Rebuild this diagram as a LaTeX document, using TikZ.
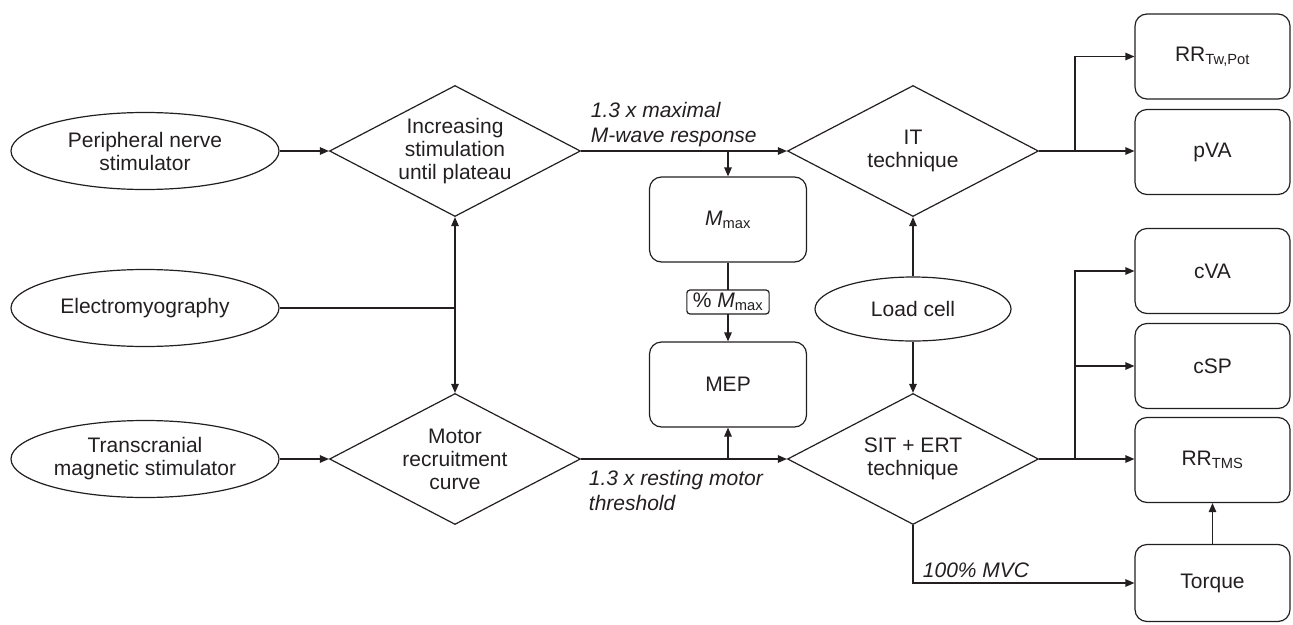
\documentclass[tikz,border=0pt]{standalone}
\usepackage{fontspec}
\setmainfont{Liberation Sans}
\usetikzlibrary{arrows.meta,shapes.geometric}
\definecolor{Ink}{HTML}{231F20}
\newcommand{\Mmax}{\textit{M}\textsubscript{max}}

\begin{document}
\begin{tikzpicture}[x=1pt,y=-1pt,color=Ink,line width=1.2pt,font=\fontsize{21}{23}\selectfont,>={Triangle[length=9pt,width=7.5pt]},
    srcoval/.style={ellipse,draw,align=center,inner sep=0pt,minimum width=268pt,minimum height=77pt},
    decide/.style={diamond,draw,align=center,inner sep=0pt,aspect=1.92,minimum width=251pt,minimum height=131pt},
    outbox/.style={draw,rounded corners=12pt,align=center,minimum width=155pt,minimum height=85pt},
    pcttag/.style={draw,fill=white,rounded corners=3pt,inner xsep=6pt,inner ysep=3pt},
    cue/.style={font=\fontsize{21}{25}\selectfont\itshape,align=left,anchor=west}]
        \useasboundingbox (0,0) rectangle (1293,624);
        \node[srcoval] (pns) at (145,151) {Peripheral nerve\\stimulator};
        \node[srcoval] (emg) at (145,308) {Electromyography};
        \node[srcoval] (tms) at (145,459) {Transcranial\\magnetic stimulator};
        \node[decide] (inc) at (455,151) {Increasing\\stimulation\\until plateau};
        \node[decide] (mrc) at (455,459) {Motor\\recruitment\\curve};
        \node[decide] (it) at (913,151) {IT\\technique};
        \node[decide] (sit) at (913,459) {SIT + ERT\\technique};
        \node[outbox,minimum width=157pt] (mmax) at (728,219.5) {\Mmax};
        \node[outbox,minimum width=157pt] (mep) at (728,384.5) {MEP};
        \node[srcoval,minimum width=196pt,minimum height=64pt] (load) at (913,309) {Load cell};
        \node[outbox] (rrtw) at (1212.5,56.5) {RR\textsubscript{Tw,Pot}};
        \node[outbox] (pva) at (1212.5,152) {pVA};
        \node[outbox] (cva) at (1212.5,271) {cVA};
        \node[outbox] (csp) at (1212.5,366) {cSP};
        \node[outbox] (rrtms) at (1212.5,460) {RR\textsubscript{TMS}};
        \node[outbox,minimum height=77pt] (torque) at (1212.5,583) {Torque};
        \node[cue] (mwave) at (587,125) {1.3 x maximal\\M-wave response};
        \node[cue] (rmt) at (585,490) {1.3 x resting motor\\threshold};
        \node[cue] (mvc) at (919,570) {100\% MVC};
        \coordinate (itbr) at (1075,151);
        \coordinate (sitbr) at (1075,459);
        \draw[->] (pns.east) -- (inc.west);
        \draw[->] (tms.east) -- (mrc.west);
        \draw (emg.east) -- (emg.east -| inc.south);
        \draw[<->] (inc.south) -- (mrc.north);
        \draw[->] (inc.east) -- (it.west);
        \draw[->] (mmax.north |- inc.east) -- (mmax.north);
        \draw[->] (mmax) -- node[pcttag] (pct) {\% \Mmax} (mep);
        \draw[->] (mrc.east) -- (sit.west);
        \draw[->] (mep.south |- mrc.east) -- (mep.south);
        \draw[->] (load) -- (it);
        \draw[->] (load) -- (sit);
        \draw[->] (it.east) -- (it.east -| pva.west);
        \draw[->] (itbr) |- (rrtw.west);
        \draw[->] (sit.east) -- (sit.east -| rrtms.west);
        \draw[->] (sitbr) |- (cva.west);
        \draw[->] (sitbr |- csp.west) -- (csp.west);
        \draw[->] (sit.south) |- (torque.west);
        \draw[->] (torque) -- (rrtms);
      \end{tikzpicture}
\end{document}
